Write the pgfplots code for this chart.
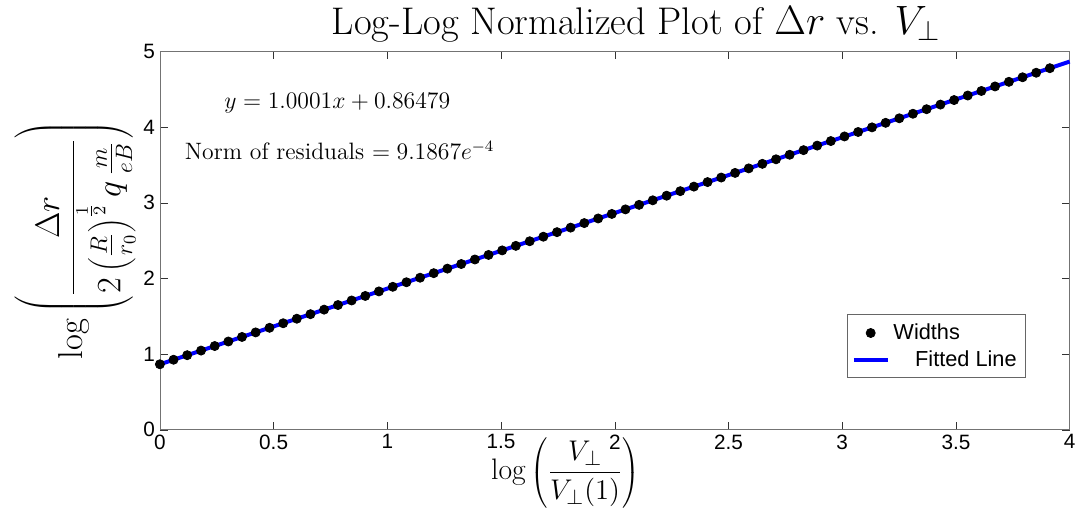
\documentclass[border=0pt]{standalone}
\usepackage{pgfplots}
\pgfplotsset{compat=1.18}
\usepackage{fontspec}
\newfontfamily\arial{Liberation Sans}
\begin{document}
\begin{tikzpicture}
\begin{axis}[
  width=460.5pt, height=191.5pt, scale only axis,
  xmin=0, xmax=4, ymin=0, ymax=5,
  xtick={0,0.5,1,1.5,2,2.5,3,3.5,4},
  ytick={0,1,2,3,4,5},
  tick align=inside, major tick length=4pt,
  axis line style={black!55},
  tick style={black!80},
  /pgf/number format/assume math mode=true,
  tick label style={font=\arial\fontsize{10.5}{12}\selectfont},
  xticklabel style={yshift=1pt},
  yticklabel style={xshift=1pt},
  title={\fontsize{19.5}{23}\selectfont Log-Log Normalized Plot of $\Delta r$ vs. $V_\perp$},
  title style={xshift=11pt, yshift=-5pt},
  xlabel={\fontsize{15}{17}\selectfont $\displaystyle\log\left(\frac{V_\perp}{V_\perp(1)}\right)$},
  xlabel style={yshift=13pt, xshift=-25pt},
  ylabel={\fontsize{17.5}{20}\selectfont $\displaystyle\log\left(\frac{\Delta r}{2\left(\frac{R}{r_0}\right)^{\frac{1}{2}} q\,\frac{m}{eB}}\right)$},
  ylabel style={yshift=-3pt},
  legend style={at={(0.952,0.136)}, anchor=south east, draw=black!60,
    font=\arial\fontsize{11}{13}\selectfont, inner sep=2.5pt, row sep=0pt},
  legend cell align=left,
  clip=false,
]
\addplot[only marks, mark=*, mark size=2.3pt, black] coordinates {
(0.000,0.865) (0.060,0.925) (0.120,0.985) (0.181,1.046) (0.241,1.106)
(0.301,1.166) (0.361,1.226) (0.421,1.286) (0.482,1.347) (0.542,1.407)
(0.602,1.467) (0.662,1.527) (0.722,1.587) (0.783,1.648) (0.843,1.708)
(0.903,1.768) (0.963,1.828) (1.024,1.889) (1.084,1.949) (1.144,2.009)
(1.204,2.069) (1.264,2.129) (1.325,2.190) (1.385,2.250) (1.445,2.310)
(1.505,2.370) (1.565,2.430) (1.626,2.491) (1.686,2.551) (1.746,2.611)
(1.806,2.671) (1.866,2.731) (1.927,2.792) (1.987,2.852) (2.047,2.912)
(2.107,2.972) (2.167,3.032) (2.228,3.093) (2.288,3.153) (2.348,3.213)
(2.408,3.273) (2.468,3.333) (2.529,3.394) (2.589,3.454) (2.649,3.514)
(2.709,3.574) (2.769,3.634) (2.830,3.695) (2.890,3.755) (2.950,3.815)
(3.010,3.876) (3.070,3.935) (3.131,3.996) (3.191,4.056) (3.251,4.116)
(3.311,4.176) (3.371,4.236) (3.432,4.297) (3.492,4.357) (3.552,4.417)
(3.612,4.477) (3.672,4.537) (3.733,4.598) (3.793,4.658) (3.853,4.718)
(3.913,4.778)
};
\addlegendentry{Widths}
\addplot[blue, line width=2pt, no marks] coordinates {(0,0.8648) (4,4.8652)};
\addlegendentry{\quad Fitted Line}
\node[font=\fontsize{13}{15}\selectfont] at (axis cs:0.78,4.31) {$y = 1.0001x + 0.86479$};
\node[font=\fontsize{12}{14}\selectfont] at (axis cs:0.79,3.69) {Norm of residuals $= 9.1867e^{-4}$};
\end{axis}
\path (current bounding box.west) ++(-4pt,0) coordinate (padL);
\path (padL) rectangle (padL);
\end{tikzpicture}
\end{document}
